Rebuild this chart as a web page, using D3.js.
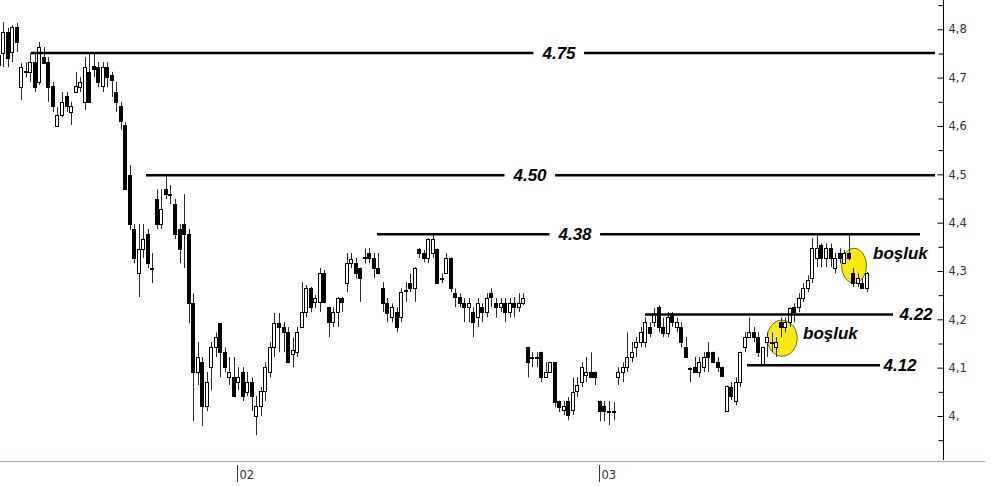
<!DOCTYPE html>
<html>
<head>
<meta charset="utf-8">
<script src="https://cdn.jsdelivr.net/npm/d3@7"></script>
<style>
  html, body { margin: 0; padding: 0; background: #fff; }
  svg { display: block; }
</style>
</head>
<body>
<svg id="chart" width="1000" height="486"></svg>
<script>
// ---- DATA ----
const opens = [4.747,4.751,4.794,4.753,4.805,4.680,4.713,4.712,4.732,4.691,4.743,4.732,4.683,4.600,4.623,4.662,4.629,4.670,4.680,4.650,
4.712,4.724,4.722,4.683,4.722,4.705,4.670,4.641,4.602,4.498,4.387,4.295,4.345,4.376,4.307,4.449,4.397,4.469,4.460,4.438,
4.387,4.397,4.376,4.233,4.091,4.111,4.020,4.101,4.142,4.192,4.132,4.080,4.080,4.070,4.091,4.049,4.070,4.000,4.020,4.051,
4.091,4.142,4.192,4.184,4.173,4.128,4.132,4.184,4.215,4.264,4.236,4.236,4.295,4.225,4.194,4.215,4.244,4.275,4.316,4.316,
4.306,4.328,4.337,4.327,4.306,4.264,4.233,4.204,4.215,4.204,4.261,4.275,4.264,4.345,4.337,4.327,4.337,4.345,4.286,4.295,
4.327,4.254,4.246,4.233,4.225,4.215,4.204,4.225,4.215,4.254,4.233,4.225,4.233,4.215,4.233,4.225,4.233,4.142,4.123,4.122,
4.132,4.080,4.091,4.111,4.031,4.012,4.031,4.012,4.051,4.070,4.084,4.091,4.091,4.031,4.020,4.011,4.011,4.080,4.091,4.101,
4.122,4.142,4.153,4.153,4.184,4.194,4.225,4.184,4.171,4.213,4.184,4.184,4.142,4.099,4.101,4.091,4.101,4.132,4.132,4.111,
4.101,4.010,4.060,4.031,4.070,4.142,4.163,4.173,4.163,4.105,4.153,4.154,4.142,4.194,4.184,4.194,4.225,4.225,4.244,4.264,
4.285,4.327,4.353,4.327,4.347,4.306,4.337,4.316,4.337,4.295,4.275,4.275,4.264];
const highs = [4.757,4.815,4.803,4.809,4.813,4.730,4.732,4.751,4.753,4.774,4.763,4.743,4.691,4.639,4.670,4.670,4.650,4.712,4.701,4.743,
4.751,4.751,4.732,4.732,4.732,4.712,4.691,4.650,4.608,4.519,4.397,4.397,4.397,4.387,4.337,4.469,4.469,4.498,4.478,4.449,
4.397,4.459,4.387,4.254,4.153,4.122,4.091,4.153,4.173,4.193,4.142,4.122,4.122,4.101,4.101,4.091,4.080,4.041,4.060,4.111,
4.153,4.213,4.213,4.194,4.184,4.163,4.184,4.277,4.271,4.267,4.250,4.306,4.302,4.226,4.225,4.246,4.246,4.337,4.337,4.327,
4.307,4.347,4.347,4.337,4.337,4.277,4.244,4.233,4.225,4.264,4.277,4.295,4.308,4.347,4.343,4.368,4.374,4.347,4.295,4.337,
4.328,4.264,4.254,4.244,4.244,4.225,4.244,4.233,4.254,4.264,4.244,4.244,4.244,4.244,4.246,4.254,4.254,4.143,4.132,4.132,
4.133,4.111,4.112,4.112,4.032,4.031,4.039,4.080,4.080,4.111,4.122,4.132,4.092,4.032,4.031,4.031,4.028,4.101,4.111,4.173,
4.153,4.163,4.184,4.204,4.194,4.223,4.229,4.204,4.215,4.215,4.204,4.194,4.163,4.101,4.122,4.122,4.132,4.153,4.133,4.122,
4.102,4.063,4.070,4.080,4.133,4.173,4.204,4.184,4.173,4.143,4.173,4.173,4.163,4.204,4.204,4.225,4.233,4.254,4.275,4.291,
4.368,4.374,4.357,4.357,4.357,4.337,4.347,4.343,4.378,4.306,4.295,4.285,4.298];
const lows = [4.712,4.722,4.722,4.732,4.753,4.654,4.701,4.691,4.670,4.685,4.728,4.650,4.629,4.598,4.618,4.629,4.602,4.668,4.670,4.633,
4.648,4.701,4.680,4.670,4.680,4.660,4.629,4.592,4.467,4.385,4.316,4.246,4.327,4.306,4.275,4.387,4.387,4.449,4.438,4.366,
4.316,4.306,4.192,3.989,4.064,3.979,4.010,4.053,4.122,4.080,4.091,4.064,4.039,4.053,4.031,4.041,4.010,3.960,4.000,4.031,
4.080,4.122,4.132,4.132,4.109,4.101,4.122,4.182,4.204,4.215,4.223,4.215,4.233,4.163,4.184,4.184,4.215,4.256,4.306,4.285,
4.236,4.316,4.316,4.285,4.293,4.215,4.194,4.194,4.173,4.194,4.236,4.256,4.236,4.327,4.318,4.316,4.327,4.274,4.275,4.294,
4.256,4.225,4.225,4.194,4.194,4.163,4.184,4.194,4.204,4.225,4.204,4.215,4.194,4.204,4.204,4.215,4.229,4.080,4.101,4.101,
4.070,4.079,4.090,4.018,4.008,4.002,3.991,4.002,4.039,4.060,4.070,4.079,4.064,3.989,3.989,3.981,3.991,4.064,4.070,4.091,
4.111,4.122,4.142,4.142,4.163,4.184,4.173,4.163,4.163,4.184,4.173,4.142,4.121,4.070,4.090,4.080,4.091,4.091,4.110,4.091,
4.081,4.009,4.033,4.022,4.060,4.132,4.162,4.153,4.122,4.104,4.122,4.132,4.122,4.163,4.173,4.184,4.194,4.215,4.236,4.256,
4.275,4.308,4.308,4.308,4.308,4.295,4.316,4.315,4.322,4.267,4.267,4.263,4.256];
const closes = [4.726,4.794,4.741,4.805,4.774,4.722,4.711,4.732,4.680,4.763,4.730,4.680,4.641,4.623,4.650,4.641,4.641,4.683,4.691,4.722,
4.650,4.718,4.691,4.722,4.701,4.695,4.650,4.610,4.469,4.397,4.327,4.345,4.366,4.316,4.305,4.397,4.428,4.459,4.458,4.376,
4.345,4.376,4.233,4.091,4.122,4.020,4.070,4.142,4.163,4.132,4.101,4.091,4.041,4.080,4.041,4.070,4.041,4.020,4.051,4.101,
4.142,4.192,4.184,4.173,4.111,4.136,4.173,4.215,4.264,4.225,4.244,4.295,4.236,4.194,4.215,4.244,4.236,4.316,4.324,4.295,
4.285,4.326,4.327,4.306,4.295,4.233,4.213,4.225,4.184,4.256,4.259,4.264,4.306,4.337,4.327,4.366,4.366,4.275,4.284,4.327,
4.264,4.246,4.233,4.225,4.233,4.194,4.233,4.215,4.244,4.246,4.225,4.233,4.215,4.233,4.225,4.233,4.244,4.111,4.121,4.120,
4.080,4.091,4.111,4.028,4.018,4.020,4.002,4.049,4.064,4.101,4.091,4.080,4.080,4.010,4.010,4.009,4.009,4.091,4.101,4.122,
4.132,4.153,4.173,4.194,4.171,4.213,4.184,4.171,4.204,4.194,4.194,4.153,4.122,4.097,4.091,4.111,4.122,4.122,4.111,4.101,
4.082,4.062,4.041,4.070,4.132,4.163,4.173,4.163,4.132,4.142,4.163,4.152,4.153,4.184,4.194,4.223,4.215,4.244,4.264,4.281,
4.347,4.347,4.327,4.347,4.327,4.327,4.327,4.337,4.327,4.275,4.285,4.264,4.295];

const yTickValues = [4.0, 4.1, 4.2, 4.3, 4.4, 4.5, 4.6, 4.7, 4.8];
const yMinorValues = [3.95, 4.05, 4.15, 4.25, 4.35, 4.45, 4.55, 4.65, 4.75, 4.85];
const monthLabels = ["02", "03"];
const monthIndex = [52.8, 132.8];

// horizontal annotation levels (drawn positions) and their labels
const levelValues = [4.751, 4.498, 4.376, 4.210, 4.105];
const levelLabels = ["4.75", "4.50", "4.38", "4.22", "4.12"];
const levelStart = [31, 146, 377, 645, 747];
const levelEnd = [935, 935, 920, 893, 880];
const levelLabelX = [559, 530, 575, 916, 900];
const levelGap = [true, true, true, false, false];

// gap annotations
const gapIndex = [173.3, 189.2];
const gapPrice = [4.161, 4.311];
const gapText = ["boşluk", "boşluk"];

// ---- CHART ----
const svg = d3.select("#chart");
svg.append("rect").attr("width", 1000).attr("height", 486).attr("fill", "#fff");

const n = opens.length;
const x = d3.scaleLinear().domain([0, n - 1]).range([-1.3, 866.7]);
const y = d3.scaleLinear().domain([4.0, 4.8]).range([416, 29.3]);

// yellow gap circles (under candles)
const circ = svg.append("g");
circ.selectAll("ellipse").data(gapIndex).join("ellipse")
  .attr("cx", (d) => x(d))
  .attr("cy", (d, i) => y(gapPrice[i]))
  .attr("rx", (d, i) => i === 0 ? 15 : 12.5)
  .attr("ry", (d, i) => i === 0 ? 18 : 17.5)
  .attr("fill", "#f8ea12")
  .attr("stroke", "#6d6a10")
  .attr("stroke-width", 1);

// candles
const data = d3.range(n).map(i => ({ i, o: opens[i], h: highs[i], l: lows[i], c: closes[i] }));
const cg = svg.append("g");
const px = d => Math.round(x(d.i));
cg.selectAll("line.wick").data(data).join("line")
  .attr("class", "wick")
  .attr("x1", d => px(d) + 0.5).attr("x2", d => px(d) + 0.5)
  .attr("y1", d => y(d.h)).attr("y2", d => y(d.l))
  .attr("stroke", "#2a2a2a").attr("stroke-width", 1);
cg.selectAll("rect.body").data(data).join("rect")
  .attr("class", "body")
  .attr("x", d => px(d) - 1.5)
  .attr("width", 3)
  .attr("y", d => Math.round(y(Math.max(d.o, d.c))) + 0.5)
  .attr("height", d => Math.max(1, Math.round(y(Math.min(d.o, d.c))) - Math.round(y(Math.max(d.o, d.c)))))
  .attr("fill", d => d.c >= d.o ? "#fff" : "#000")
  .attr("stroke", "#000").attr("stroke-width", 1);

// level lines
const lg = svg.append("g");
levelValues.forEach((v, k) => {
  const yy = y(v);
  lg.append("line")
    .attr("x1", levelStart[k]).attr("x2", levelEnd[k])
    .attr("y1", yy).attr("y2", yy)
    .attr("stroke", "#000").attr("stroke-width", 2.5);
  const t = lg.append("text")
    .attr("x", levelLabelX[k]).attr("y", yy + 6)
    .attr("text-anchor", "middle")
    .attr("font-family", "'Liberation Sans', Arial, sans-serif")
    .attr("font-weight", "bold").attr("font-style", "italic")
    .attr("font-size", 17).attr("fill", "#000")
    .text(levelLabels[k]);
  if (levelGap[k]) {
    const bb = t.node().getBBox();
    lg.insert("rect", function() { return t.node(); })
      .attr("x", bb.x - 8).attr("y", yy - 3).attr("width", bb.width + 16).attr("height", 6)
      .attr("fill", "#fff");
  }
});

// gap labels
svg.append("g").selectAll("text").data(gapText).join("text")
  .attr("x", (d, i) => i === 0 ? 803 : 873)
  .attr("y", (d, i) => i === 0 ? 339 : 259)
  .attr("font-family", "'Liberation Sans', Arial, sans-serif")
  .attr("font-weight", "bold").attr("font-style", "italic")
  .attr("font-size", 17).attr("fill", "#000")
  .text(d => d);

// right axis
const axX = 943;
svg.append("line").attr("x1", axX + 0.5).attr("x2", axX + 0.5).attr("y1", 0).attr("y2", 460)
  .attr("stroke", "#000").attr("stroke-width", 1);
const fmt = d => d === 4 ? "4," : d3.format(".1f")(d).replace(".", ",");
const ax = svg.append("g").attr("transform", `translate(${axX + 0.5},0)`)
  .call(d3.axisRight(y).tickValues(yTickValues).tickFormat(fmt).tickSizeInner(-6).tickSizeOuter(0).tickPadding(5));
ax.select(".domain").remove();
ax.selectAll("text").attr("font-family", "'DejaVu Sans', Verdana, sans-serif").attr("font-size", 11.5).attr("fill", "#333");
ax.selectAll("line").attr("stroke", "#000");
const axm = svg.append("g").attr("transform", `translate(${axX + 0.5},0)`)
  .call(d3.axisRight(y).tickValues(yMinorValues).tickFormat("").tickSizeInner(-5).tickSizeOuter(0));
axm.select(".domain").remove();
axm.selectAll("line").attr("stroke", "#000");

// bottom green line and month labels
svg.append("line").attr("x1", 0).attr("x2", 985).attr("y1", 461.5).attr("y2", 461.5)
  .attr("stroke", "#86c486").attr("stroke-width", 1);
const mg = svg.append("g");
monthLabels.forEach((m, k) => {
  const mx = Math.round(x(monthIndex[k])) + 0.5;
  mg.append("line").attr("x1", mx).attr("x2", mx).attr("y1", 465).attr("y2", 482)
    .attr("stroke", "#333").attr("stroke-width", 1);
  mg.append("text").attr("x", mx + 2).attr("y", 479)
    .attr("font-family", "'DejaVu Sans', Verdana, sans-serif").attr("font-size", 11.5).attr("fill", "#333")
    .text(m);
});
</script>
</body>
</html>
